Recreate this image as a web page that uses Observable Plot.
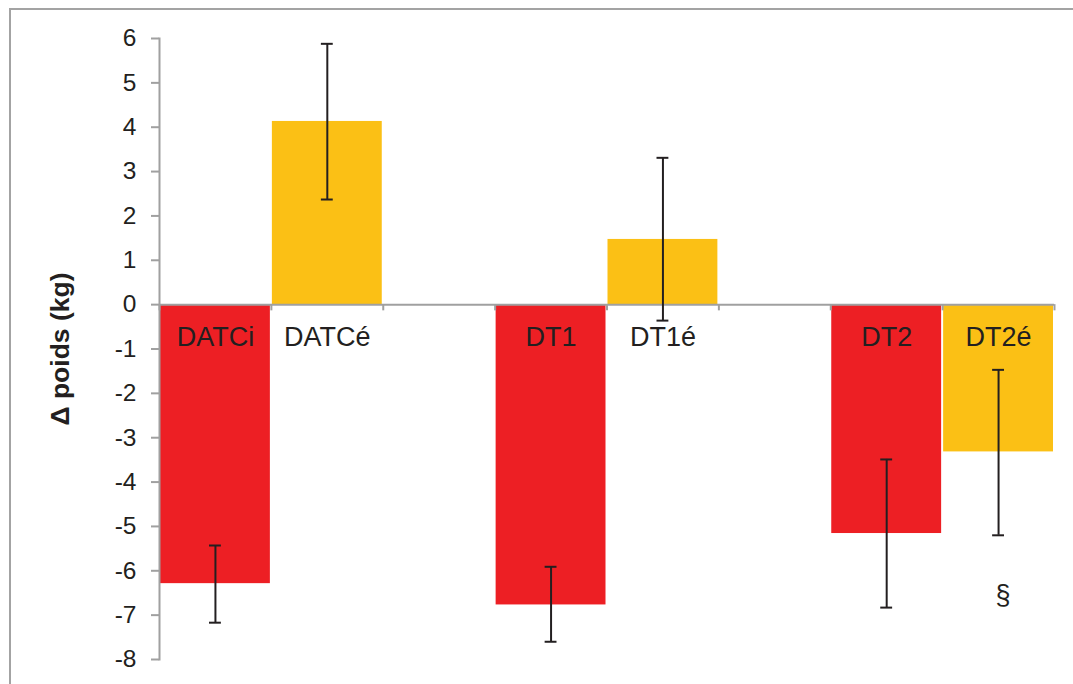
<!DOCTYPE html>
<html>
<head>
<meta charset="utf-8">
<script src="https://cdn.jsdelivr.net/npm/d3@7"></script>
<script src="https://cdn.jsdelivr.net/npm/@observablehq/plot@0.6"></script>
<style>
  html, body { margin: 0; padding: 0; background: #fff; }
  #wrap { position: relative; width: 1073px; height: 684px; overflow: hidden; font-family: "Liberation Sans", Arial, sans-serif; }
  #border { position: absolute; left: 9px; top: 8px; width: 1200px; height: 800px; border-top: 2px solid #a3a3a3; border-left: 2px solid #a3a3a3; pointer-events: none; }
  #wrap svg { position: absolute; left: 0; top: 0; }
</style>
</head>
<body>
<div id="wrap"><div id="border"></div></div>
<script>
// Slots along the x axis (empty slots separate the groups)
const slots = ["DATCi", "DATCé", " ", "DT1", "DT1é", "  ", "DT2", "DT2é"];
// Bars
const categories = ["DATCi", "DATCé", "DT1", "DT1é", "DT2", "DT2é"];
const values     = [-6.29, 4.13, -6.77, 1.47, -5.16, -3.32];
const errLow     = [-7.17, 2.37, -7.60, -0.36, -6.83, -5.20];
const errHigh    = [-5.43, 5.88, -5.91, 3.31, -3.49, -1.47];
const barColors  = ["#ED1F24", "#FBC015", "#ED1F24", "#FBC015", "#ED1F24", "#FBC015"];
const yTicks     = [6, 5, 4, 3, 2, 1, 0, -1, -2, -3, -4, -5, -6, -7, -8];
const yLabel     = "Δ poids (kg)";
const noteMark   = [{cat: "DT2é", y: -6.56, text: "§"}];

const data = categories.map((c, i) => ({cat: c, v: values[i], lo: errLow[i], hi: errHigh[i], color: barColors[i]}));
const font = "'Liberation Sans', Arial, sans-serif";
const grey = "#a0a0a0";
const ink = "#231F20";

const chart = Plot.plot({
  width: 1073,
  height: 684,
  marginLeft: 159,
  marginRight: 19,
  marginTop: 38,
  marginBottom: 25,
  style: {fontFamily: font, background: "transparent", overflow: "visible"},
  x: {domain: slots, padding: 0, round: false, axis: null},
  y: {domain: [-8, 6], axis: null},
  marks: [
    Plot.barY(data, {x: "cat", y: "v", fill: "color", insetLeft: 1, insetRight: 1}),
    Plot.ruleY([0], {stroke: grey, strokeWidth: 2}),
    // category boundary ticks on the zero line
    Plot.ruleX(slots, {x: d => d, y1: 0, y2: -0.14, dx: -895 / 16, stroke: grey, strokeWidth: 2}),
    Plot.ruleX(slots.slice(-1), {x: d => d, y1: 0, y2: -0.14, dx: 895 / 16, stroke: grey, strokeWidth: 2}),
    Plot.frame({anchor: "left", stroke: grey, strokeWidth: 2}),
    Plot.axisY({ticks: yTicks, tickSize: 8, tickPadding: 15, fontSize: 24.5, stroke: grey, strokeWidth: 2, color: ink, label: null, tickFormat: d => d < 0 ? "-" + Math.abs(d) : String(d)}),
    // error bars
    Plot.ruleX(data, {x: "cat", y1: "lo", y2: "hi", stroke: ink, strokeWidth: 2}),
    Plot.tickY(data, {x: "cat", y: "lo", stroke: ink, strokeWidth: 2, insetLeft: 50, insetRight: 50}),
    Plot.tickY(data, {x: "cat", y: "hi", stroke: ink, strokeWidth: 2, insetLeft: 50, insetRight: 50}),
    // bar labels
    Plot.text(data, {x: "cat", y: 0, text: "cat", dy: 33, fontSize: 27, fill: ink}),
    Plot.text(noteMark, {x: "cat", y: "y", text: "text", dx: 4.5, fontSize: 27, fill: ink}),
    // y label
    Plot.text([yLabel], {frameAnchor: "left", textAnchor: "middle", dx: -99, rotate: -90, fontSize: 26.5, fontWeight: "bold", fill: ink})
  ]
});
document.getElementById("wrap").appendChild(chart);
</script>
</body>
</html>
